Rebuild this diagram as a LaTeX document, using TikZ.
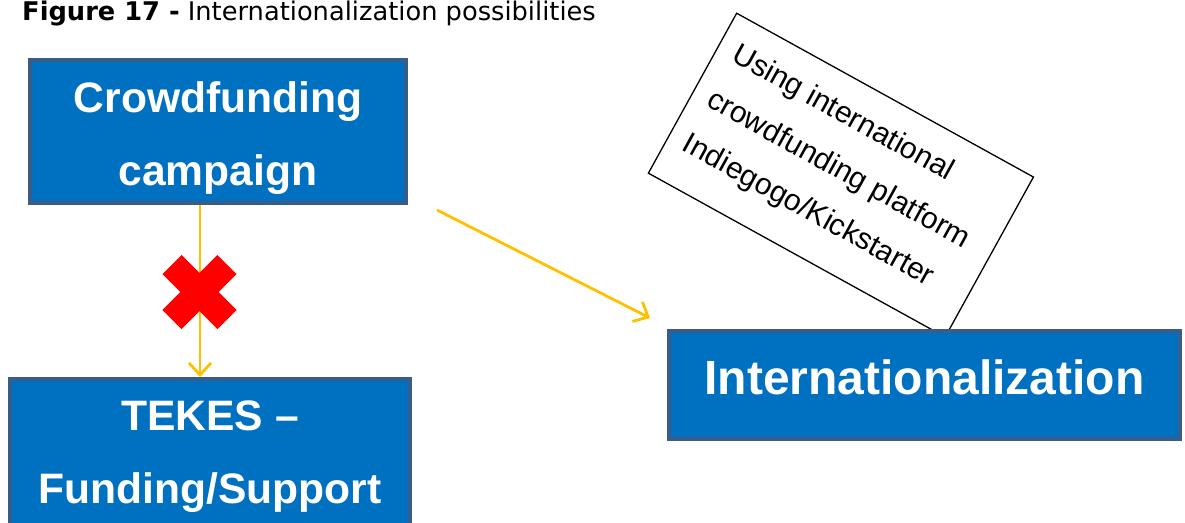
\documentclass[tikz,border=0pt]{standalone}
\usepackage{fontspec}
\setmainfont{Liberation Sans}
\newfontfamily\titlefont{DejaVu Sans}
\usetikzlibrary{arrows.meta}
\definecolor{boxblue}{HTML}{0070C0}
\definecolor{boxedge}{HTML}{385D8A}
\definecolor{arrowyellow}{HTML}{FFC000}
\definecolor{crossred}{HTML}{FF0000}
\begin{document}
\begin{tikzpicture}[x=1pt,y=-1pt,
  bluebox/.style={draw=boxedge, fill=boxblue, line width=4pt, inner sep=0pt, rectangle},
  boxtext/.style={text=white, font=\fontsize{42.6}{50}\selectfont\bfseries, inner sep=0pt, anchor=base},
  notebox/.style={draw=black, fill=white, line width=1.3pt, inner sep=0pt, rectangle,
    minimum width=339pt, minimum height=182.7pt, rotate=-28.9},
  noteline/.style={font=\fontsize{30}{35}\selectfont, inner sep=0pt, anchor=base west, rotate=-28.9},
  flow/.style={draw=arrowyellow, line width=2.8pt, -{Straight Barb[length=12pt,width=22pt,line width=2.8pt]}},
  crossarm/.style={draw=crossred, line width=27pt}]
\useasboundingbox (0,0) rectangle (1185,522);
% title
\node[anchor=base west, inner sep=0pt, font=\titlefont\fontsize{25.7}{28}\selectfont] (title) at (22,20)
  {\textbf{Figure 17 -} Internationalization possibilities};
% diagonal arrow
\coordinate (dstart) at (437,210);
\coordinate (dend) at (650,318);
\draw[flow] (dstart) -- (dend);
% rotated note
\node[notebox] (note) at (840.9,175.1) {};
\node[noteline] (n1) at (729.9,60.9) {Using international};
\node[noteline] (n2) at (705.2,105.5) {crowdfunding platform};
\node[noteline] (n3) at (680.8,149.7) {Indiegogo/Kickstarter};
% boxes
\node[bluebox, minimum width=376pt, minimum height=143pt] (cf) at (218,131.5) {};
\node[boxtext] (cft1) at (218,112) {Crowdfunding};
\node[boxtext] (cft2) at (218,185) {campaign};
\node[bluebox, minimum width=400pt, minimum height=152pt] (tk) at (210,455) {};
\node[boxtext] (tkt1) at (210,430) {TEKES --};
\node[boxtext] (tkt2) at (210,503) {Funding/Support};
\node[bluebox, minimum width=511pt, minimum height=108pt] (intl) at (924.5,385) {};
\node[boxtext, font=\fontsize{48}{56}\selectfont\bfseries] (intlt) at (924.5,394) {Internationalization};
% vertical arrow with cross
\coordinate (vx) at (200,0);
\draw[flow] (cf.south -| vx) -- (tk.north -| vx);
\coordinate (xm) at (199.5,292);
\draw[crossarm] ([shift={(-27.5,-27.5)}]xm) -- ([shift={(27.5,27.5)}]xm);
\draw[crossarm] ([shift={(27.5,-27.5)}]xm) -- ([shift={(-27.5,27.5)}]xm);
\end{tikzpicture}
\end{document}
